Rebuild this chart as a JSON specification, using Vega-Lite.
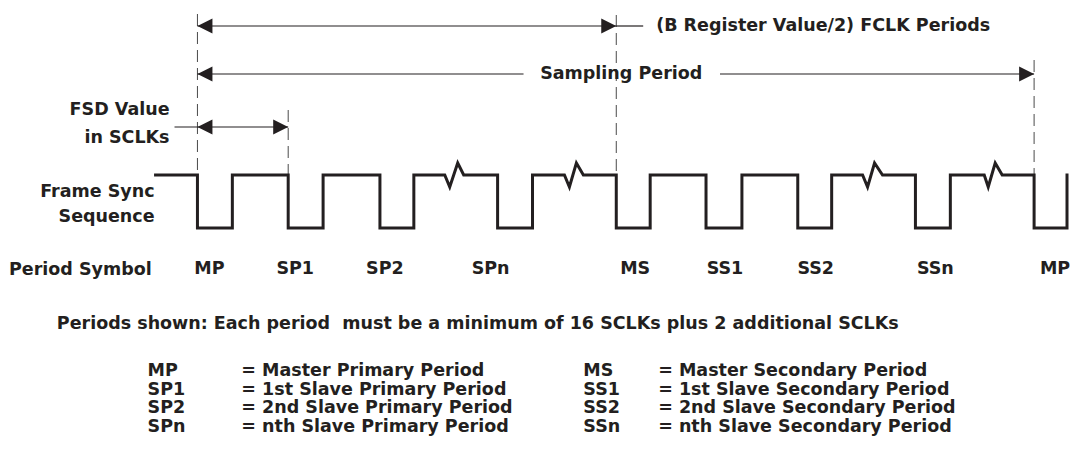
{
  "$schema": "https://vega.github.io/schema/vega-lite/v6.json",
  "width": 1073,
  "height": 450,
  "autosize": {"type": "fit", "contains": "padding"},
  "padding": 0,
  "background": "white",
  "config": {"view": {"stroke": null}},
  "datasets": {
    "wave": [
      {"i": 0, "x": 156, "y": 175}, {"i": 1, "x": 198, "y": 175}, {"i": 2, "x": 198, "y": 228}, {"i": 3, "x": 233, "y": 228},
      {"i": 4, "x": 233, "y": 175}, {"i": 5, "x": 289, "y": 175}, {"i": 6, "x": 289, "y": 228}, {"i": 7, "x": 324, "y": 228},
      {"i": 8, "x": 324, "y": 175}, {"i": 9, "x": 381, "y": 175}, {"i": 10, "x": 381, "y": 228}, {"i": 11, "x": 415, "y": 228},
      {"i": 12, "x": 415, "y": 175}, {"i": 13, "x": 446, "y": 175}, {"i": 14, "x": 451, "y": 187}, {"i": 15, "x": 459, "y": 163},
      {"i": 16, "x": 465, "y": 175}, {"i": 17, "x": 499, "y": 175}, {"i": 18, "x": 499, "y": 228}, {"i": 19, "x": 534, "y": 228},
      {"i": 20, "x": 534, "y": 175}, {"i": 21, "x": 566, "y": 175}, {"i": 22, "x": 571, "y": 187}, {"i": 23, "x": 578, "y": 163},
      {"i": 24, "x": 585, "y": 175}, {"i": 25, "x": 618, "y": 175}, {"i": 26, "x": 618, "y": 228}, {"i": 27, "x": 652, "y": 228},
      {"i": 28, "x": 652, "y": 175}, {"i": 29, "x": 708, "y": 175}, {"i": 30, "x": 708, "y": 228}, {"i": 31, "x": 744, "y": 228},
      {"i": 32, "x": 744, "y": 175}, {"i": 33, "x": 800, "y": 175}, {"i": 34, "x": 800, "y": 228}, {"i": 35, "x": 834, "y": 228},
      {"i": 36, "x": 834, "y": 175}, {"i": 37, "x": 865, "y": 175}, {"i": 38, "x": 870, "y": 187}, {"i": 39, "x": 877, "y": 163},
      {"i": 40, "x": 885, "y": 175}, {"i": 41, "x": 918, "y": 175}, {"i": 42, "x": 918, "y": 228}, {"i": 43, "x": 953, "y": 228},
      {"i": 44, "x": 953, "y": 175}, {"i": 45, "x": 987, "y": 175}, {"i": 46, "x": 991, "y": 187}, {"i": 47, "x": 998, "y": 163},
      {"i": 48, "x": 1005, "y": 175}, {"i": 49, "x": 1037, "y": 175}, {"i": 50, "x": 1037, "y": 228}, {"i": 51, "x": 1070, "y": 228},
      {"i": 52, "x": 1070, "y": 175}
    ],
    "dash": [
      {"x": 198, "y": 14, "y2": 175},
      {"x": 289, "y": 110, "y2": 175},
      {"x": 618, "y": 15, "y2": 175},
      {"x": 1037, "y": 60, "y2": 175}
    ],
    "span": [
      {"x": 198, "x2": 618, "y": 26},
      {"x": 618, "x2": 645, "y": 26},
      {"x": 198, "x2": 525, "y": 74},
      {"x": 722, "x2": 1037, "y": 74},
      {"x": 175, "x2": 289, "y": 127}
    ],
    "head": [
      {"x": 198, "y": 26, "dir": "left"},
      {"x": 618, "y": 26, "dir": "right"},
      {"x": 198, "y": 74, "dir": "left"},
      {"x": 1037, "y": 74, "dir": "right"},
      {"x": 198, "y": 127, "dir": "left"},
      {"x": 289, "y": 127, "dir": "right"}
    ],
    "textL": [
      {"x": 658, "y": 26, "label": "(B Register Value/2) FCLK Periods"},
      {"x": 9, "y": 270, "label": "Period Symbol"},
      {"x": 57, "y": 324, "label": "Periods shown: Each period\u00a0 must be a minimum of 16 SCLKs plus 2 additional SCLKs"},
      {"x": 148, "y": 371, "label": "MP"},
      {"x": 148, "y": 389.5, "label": "SP1"},
      {"x": 148, "y": 408, "label": "SP2"},
      {"x": 148, "y": 427, "label": "SPn"},
      {"x": 242, "y": 371, "label": "= Master Primary Period"},
      {"x": 242, "y": 389.5, "label": "= 1st Slave Primary Period"},
      {"x": 242, "y": 408, "label": "= 2nd Slave Primary Period"},
      {"x": 242, "y": 427, "label": "= nth Slave Primary Period"},
      {"x": 585, "y": 371, "label": "MS"},
      {"x": 585, "y": 389.5, "label": "SS1"},
      {"x": 585, "y": 408, "label": "SS2"},
      {"x": 585, "y": 427, "label": "SSn"},
      {"x": 660, "y": 371, "label": "= Master Secondary Period"},
      {"x": 660, "y": 389.5, "label": "= 1st Slave Secondary Period"},
      {"x": 660, "y": 408, "label": "= 2nd Slave Secondary Period"},
      {"x": 660, "y": 427, "label": "= nth Slave Secondary Period"}
    ],
    "textR": [
      {"x": 170, "y": 110, "label": "FSD Value"},
      {"x": 170, "y": 138, "label": "in SCLKs"},
      {"x": 155, "y": 192, "label": "Frame Sync"},
      {"x": 155, "y": 217, "label": "Sequence"}
    ],
    "textC": [
      {"x": 623, "y": 74, "label": "Sampling Period"},
      {"x": 210, "y": 269, "label": "MP"},
      {"x": 296, "y": 269, "label": "SP1"},
      {"x": 386, "y": 269, "label": "SP2"},
      {"x": 492, "y": 269, "label": "SPn"},
      {"x": 637, "y": 269, "label": "MS"},
      {"x": 727, "y": 269, "label": "SS1"},
      {"x": 818, "y": 269, "label": "SS2"},
      {"x": 938, "y": 269, "label": "SSn"},
      {"x": 1058, "y": 269, "label": "MP"}
    ]
  },
  "encoding": {
    "x": {"field": "x", "type": "quantitative", "scale": {"domain": [0, 1073], "nice": false, "zero": false}, "axis": null},
    "y": {"field": "y", "type": "quantitative", "scale": {"domain": [0, 450], "nice": false, "zero": false, "reverse": true}, "axis": null}
  },
  "layer": [
    {
      "data": {"name": "dash"},
      "mark": {"type": "rule", "color": "#4a4a4a", "strokeWidth": 1, "strokeDash": [12, 6]},
      "encoding": {"y2": {"field": "y2"}}
    },
    {
      "data": {"name": "span"},
      "mark": {"type": "rule", "color": "#231f20", "strokeWidth": 1.2},
      "encoding": {"x2": {"field": "x2"}}
    },
    {
      "data": {"name": "head"},
      "mark": {"type": "point", "filled": true, "color": "#231f20", "opacity": 1, "size": 225},
      "encoding": {
        "shape": {"field": "dir", "type": "nominal", "legend": null,
          "scale": {"domain": ["left", "right"], "range": ["M0,0L2,-1L2,1Z", "M0,0L-2,-1L-2,1Z"]}}
      }
    },
    {
      "data": {"name": "wave"},
      "mark": {"type": "line", "color": "#231f20", "strokeWidth": 3, "strokeJoin": "miter", "strokeCap": "square"},
      "encoding": {"order": {"field": "i", "type": "quantitative"}}
    },
    {
      "data": {"name": "textL"},
      "mark": {"type": "text", "align": "left", "baseline": "middle", "font": "DejaVu Sans", "fontWeight": "bold", "fontSize": 17.5, "color": "#231f20"},
      "encoding": {"text": {"field": "label"}}
    },
    {
      "data": {"name": "textR"},
      "mark": {"type": "text", "align": "right", "baseline": "middle", "font": "DejaVu Sans", "fontWeight": "bold", "fontSize": 17.5, "color": "#231f20"},
      "encoding": {"text": {"field": "label"}}
    },
    {
      "data": {"name": "textC"},
      "mark": {"type": "text", "align": "center", "baseline": "middle", "font": "DejaVu Sans", "fontWeight": "bold", "fontSize": 17.5, "color": "#231f20"},
      "encoding": {"text": {"field": "label"}}
    }
  ]
}
